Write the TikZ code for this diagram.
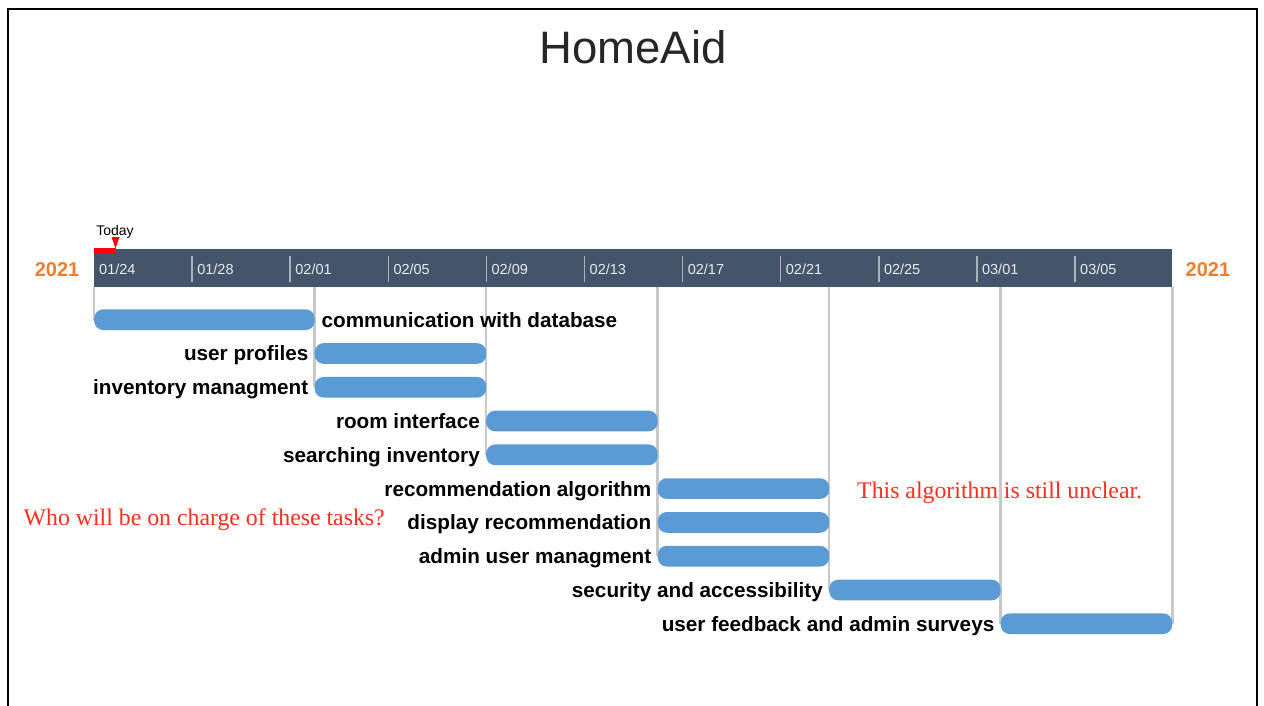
\documentclass[tikz,border=0pt]{standalone}
\usepackage{fontspec}
\setmainfont{Liberation Sans}
\newfontfamily\notefont{Liberation Serif}
\usepackage{xcolor}
\usepackage{tikz}
\usetikzlibrary{positioning}
\usetikzlibrary{backgrounds}

\definecolor{barblue}{HTML}{5B9BD5}
\definecolor{slate}{HTML}{44546A}
\definecolor{yearorange}{HTML}{ED7D31}
\definecolor{gridgray}{HTML}{C8C8C8}
\definecolor{notered}{HTML}{FF2D1E}
\definecolor{titlegray}{HTML}{262626}

\begin{document}
\begin{tikzpicture}[x=1pt,y=-1pt]
	\useasboundingbox (0,0) rectangle (1264,706);
	\draw[line width=2.5pt] (8,706) -- (8,9) -- (1257,9) -- (1257,706);
	\node[font=\fontsize{45.5}{50}\selectfont,text=titlegray,anchor=base,inner sep=0] (title) at (633,63.3) {HomeAid};
	\node[fill=slate,minimum width=1078,minimum height=38.4,inner sep=0,anchor=north west] (tl) at (94,248.3) {};
	\fill[red] (94,248.3) rectangle (115.7,254.3);
	\fill[red] (111.5,237) -- (119.5,237) -- (115.5,248.3) -- cycle;
	\node[font=\fontsize{14}{16}\selectfont,anchor=base,inner sep=0] (today) at (115,235.5) {Today};
	\draw[line width=1.5pt,color=slate!45!white]
			(192.1,255.7)--(192.1,281.7) (290.2,255.7)--(290.2,281.7) (388.3,255.7)--(388.3,281.7)
			(486.4,255.7)--(486.4,281.7) (584.5,255.7)--(584.5,281.7) (682.6,255.7)--(682.6,281.7)
			(780.7,255.7)--(780.7,281.7) (878.8,255.7)--(878.8,281.7) (976.9,255.7)--(976.9,281.7)
			(1075,255.7)--(1075,281.7);
	\tikzstyle{every node}=[font=\fontsize{14.5}{16}\selectfont,text=white!88!slate,anchor=base west,inner sep=0];
	\draw (99,274) node (d1) {01/24} (197.1,274) node (d2) {01/28} (295.2,274) node (d3) {02/01} (393.3,274) node (d4) {02/05}
		(491.4,274) node (d5) {02/09} (589.5,274) node (d6) {02/13} (687.6,274) node (d7) {02/17} (785.7,274) node (d8) {02/21}
		(883.8,274) node (d9) {02/25} (981.9,274) node (d10) {03/01} (1080,274) node (d11) {03/05};
	\tikzstyle{every node}=[font=\fontsize{20}{24}\selectfont\bfseries,text=yearorange,inner sep=0];
	\node[anchor=base east] (y1) at (79.5,276) {2021};
	\node[anchor=base west] (y2) at (1185.5,276) {2021};
	\tikzstyle{every node}=[fill=barblue,rounded corners=9pt,minimum height=20.7,inner sep=0,anchor=west];
	\node[minimum width=220.5] (b1) at (94,319.7) {};
	\node[minimum width=171.5] (b2) at (314.5,353.5) {};
	\node[minimum width=171.5] (b3) at (314.5,387.3) {};
	\node[minimum width=171.5] (b4) at (486,421.0) {};
	\node[minimum width=171.5] (b5) at (486,454.8) {};
	\node[minimum width=171.5] (b6) at (657.5,488.6) {};
	\node[minimum width=171.5] (b7) at (657.5,522.4) {};
	\node[minimum width=171.5] (b8) at (657.5,556.2) {};
	\node[minimum width=171.5] (b9) at (829,590.0) {};
	\node[minimum width=171.5] (b10) at (1000.5,623.7) {};
	\tikzstyle{every node}=[font=\fontsize{20.7}{24}\selectfont\bfseries,text height=14.8pt,text depth=0pt,inner sep=0];
	\node[right=6.5pt of b1] (l1) {communication with database};
	\node[left=6pt of b2] (l2) {user profiles};
	\node[left=6pt of b3] (l3) {inventory managment};
	\node[left=6pt of b4] (l4) {room interface};
	\node[left=6pt of b5] (l5) {searching inventory};
	\node[left=6pt of b6] (l6) {recommendation algorithm};
	\node[left=6pt of b7] (l7) {display recommendation};
	\node[left=6pt of b8] (l8) {admin user managment};
	\node[left=6pt of b9] (l9) {security and accessibility};
	\node[left=6pt of b10] (l10) {user feedback and admin surveys};
	\tikzstyle{every node}=[font=\notefont\fontsize{23.8}{28}\selectfont,text=notered,anchor=base west,inner sep=0];
	\node (n1) at (23.5,525.7) {Who will be on charge of these tasks?};
	\node (n2) at (857,498.3) {This algorithm is still unclear.};
	\begin{pgfonlayer}{background}
		\draw[line width=2.2pt,color=gridgray]
				(b1.west |- tl.south)--(b1.west) (b2.west |- tl.south)--(b3.west)
				(b4.west |- tl.south)--(b5.west) (b6.west |- tl.south)--(b8.west)
				(b9.west |- tl.south)--(b9.west) (b10.west |- tl.south)--(b10.west)
				(b10.east |- tl.south)--(b10.east);
	\end{pgfonlayer}
\end{tikzpicture}
\end{document}
